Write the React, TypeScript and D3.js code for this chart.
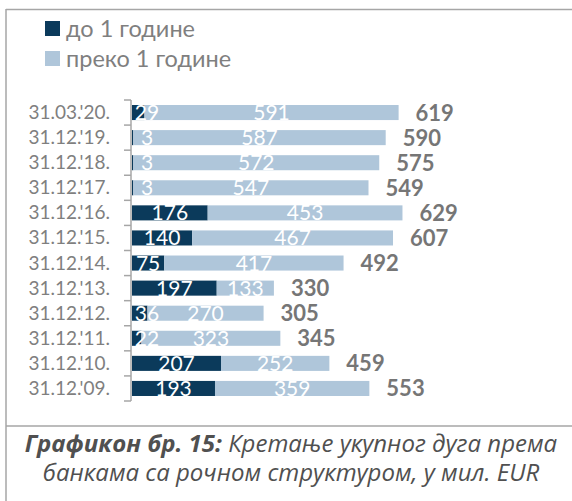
import React from 'react';
import * as d3 from 'd3';

const categories = ["31.03.'20.", "31.12.'19.", "31.12.'18.", "31.12.'17.", "31.12.'16.", "31.12.'15.", "31.12.'14.", "31.12.'13.", "31.12.'12.", "31.12.'11.", "31.12.'10.", "31.12.'09."];
const shortTerm = [29, 3, 3, 3, 176, 140, 75, 197, 36, 22, 207, 193];
const longTerm = [591, 587, 572, 547, 453, 467, 417, 133, 270, 323, 252, 359];
const totals = [619, 590, 575, 549, 629, 607, 492, 330, 305, 345, 459, 553];
const legendLabels = ['до 1 године', 'преко 1 године'];

const DARK = '#0b3a5b';
const LIGHT = '#afc6da';
const GRAY = '#7f7f7f';
const FONT = 'Lato, "Open Sans", sans-serif';
const CAPTION_FONT = '"Open Sans", Lato, sans-serif';

const W = 572;
const H = 501;

const App = () => {
  const x = d3.scaleLinear().domain([0, 700]).range([132, 433]);
  const y = d3.scaleBand<string>().domain(categories).range([100, 401]).paddingInner(0.4).paddingOuter(0.2);
  const step = y.step();

  const rows = categories.map((c, i) => ({ c, s: shortTerm[i], l: longTerm[i], t: totals[i] }));

  return (
    <svg width={W} height={H} style={{ position: 'absolute', left: 0, top: 0 }} fontFamily={FONT}>
      <rect x={0} y={0} width={W} height={H} fill="white" />
      {/* frame */}
      <line x1={6} x2={W} y1={9.5} y2={9.5} stroke="#a6a6a6" strokeWidth={1.5} />
      <line x1={6} x2={6} y1={9} y2={H} stroke="#a6a6a6" strokeWidth={1.5} />
      <line x1={6} x2={W} y1={426} y2={426} stroke="#a6a6a6" strokeWidth={1.5} />

      {/* legend */}
      {legendLabels.map((lab, i) => (
        <g key={lab} transform={`translate(45, ${21 + i * 30})`}>
          <rect width={15} height={15} fill={i === 0 ? DARK : LIGHT} />
          <text x={21} y={15.5} fontSize={23.5} fill={GRAY}>{lab}</text>
        </g>
      ))}

      {/* bars */}
      {rows.map((r) => {
        const y0 = y(r.c)!;
        const cy = y0 + y.bandwidth() / 2;
        const xs = x(0), xm = x(r.s), xe = x(r.s + r.l);
        const darkLabelX = Math.max((xs + xm) / 2, xs + 15);
        return (
          <g key={r.c}>
            <rect x={xs} y={y0} width={xm - xs} height={y.bandwidth()} fill={DARK} />
            <rect x={xm} y={y0} width={xe - xm} height={y.bandwidth()} fill={LIGHT} />
            <text x={darkLabelX} y={cy + 7.5} fontSize={21} fill="white" textAnchor="middle">{r.s}</text>
            <text x={(xm + xe) / 2} y={cy + 7.5} fontSize={21} fill="white" textAnchor="middle">{r.l}</text>
            <text x={xe + 17} y={cy + 8} fontSize={22} fontWeight="bold" fill="#767676">{r.t}</text>
            <text x={110} y={cy + 6.5} fontSize={19} fill={GRAY} textAnchor="end">{r.c}</text>
          </g>
        );
      })}

      {/* axis */}
      <g stroke="#a6a6a6" strokeWidth={1.5} fill="none">
        <line x1={131} x2={131} y1={y.range()[0]} y2={y.range()[1]} />
        {d3.range(categories.length + 1).map((i) => (
          <line key={i} x1={124} x2={131} y1={y.range()[0] + i * step} y2={y.range()[0] + i * step} />
        ))}
      </g>

      {/* caption */}
      <g fontFamily={CAPTION_FONT} fontSize={24} fontStyle="italic" fill="#505050" textAnchor="middle">
        <text x={291} y={452}>
          <tspan fontWeight="bold">Графикон бр. 15:</tspan> Кретање укупног дуга према
        </text>
        <text x={291} y={481}>банкама са рочном структуром, у мил. EUR</text>
      </g>
    </svg>
  );
};

export default App;
